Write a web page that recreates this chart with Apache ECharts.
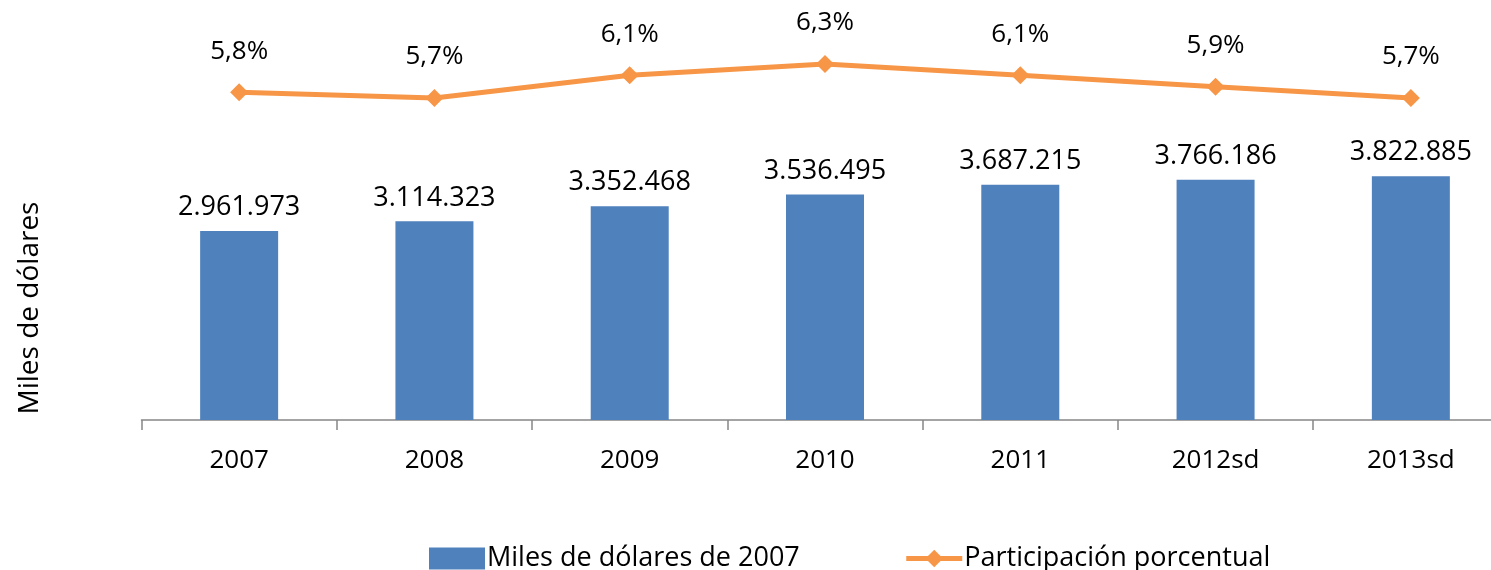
<!DOCTYPE html>
<html>
<head>
<meta charset="utf-8">
<script src="https://cdn.jsdelivr.net/npm/echarts@6/dist/echarts.min.js"></script>
<style>
  html, body { margin: 0; padding: 0; background: #fff; }
  #chart { width: 1491px; height: 570px; }
</style>
</head>
<body>
<div id="chart"></div>
<script>
const years = ['2007', '2008', '2009', '2010', '2011', '2012sd', '2013sd']
const miles = [2961973, 3114323, 3352468, 3536495, 3687215, 3766186, 3822885]
const participacion = [5.8, 5.7, 6.1, 6.3, 6.1, 5.9, 5.7]

const font = 'Open Sans'
const fmtMiles = v => String(v).replace(/\B(?=(\d{3})+(?!\d))/g, '.')

const chart = echarts.init(document.getElementById('chart'))
chart.setOption({
  animation: false,
  textStyle: { fontFamily: font },
  grid: { left: 141.5, width: 1367, top: 24.5, height: 395.5, outerBoundsMode: 'none', containLabel: false },
  legend: {
    left: 424,
    top: 540,
    itemWidth: 56,
    itemHeight: 22,
    itemGap: 104,
    textStyle: { fontSize: 27, color: '#000', fontFamily: font, padding: [0, 0, 0, -3] },
    data: [
      { name: 'Miles de dólares de 2007', icon: 'rect' },
      { name: 'Participación porcentual', lineStyle: { width: 5 } }
    ]
  },
  graphic: [{
    type: 'text',
    x: 30,
    y: 308,
    rotation: Math.PI / 2,
    style: {
      text: 'Miles de dólares',
      fontSize: 28,
      fontFamily: font,
      fill: '#000',
      align: 'center',
      verticalAlign: 'middle'
    }
  }],
  xAxis: {
    type: 'category',
    data: years,
    axisLine: { lineStyle: { color: '#868686', width: 1.5 } },
    axisTick: { show: true, alignWithLabel: false, length: 10, lineStyle: { color: '#868686', width: 1.5 } },
    axisLabel: { fontSize: 26, color: '#000', margin: 28 }
  },
  yAxis: [
    { type: 'value', min: 0, max: 6200000, show: false, splitLine: { show: false } },
    { type: 'value', min: 0, max: 7, show: false, splitLine: { show: false } }
  ],
  series: [
    {
      name: 'Miles de dólares de 2007',
      type: 'bar',
      data: miles,
      barWidth: 78,
      itemStyle: { color: '#4F81BD' },
      label: {
        show: true,
        position: 'top',
        distance: 10,
        fontSize: 27,
        color: '#000',
        formatter: p => fmtMiles(p.value)
      }
    },
    {
      name: 'Participación porcentual',
      type: 'line',
      yAxisIndex: 1,
      data: participacion,
      symbol: 'diamond',
      symbolSize: 18,
      lineStyle: { color: '#F79646', width: 5 },
      itemStyle: { color: '#F79646' },
      label: {
        show: true,
        position: 'top',
        distance: 19,
        fontSize: 26,
        color: '#000',
        formatter: p => p.value.toFixed(1).replace('.', ',') + '%'
      }
    }
  ]
})
</script>
</body>
</html>
